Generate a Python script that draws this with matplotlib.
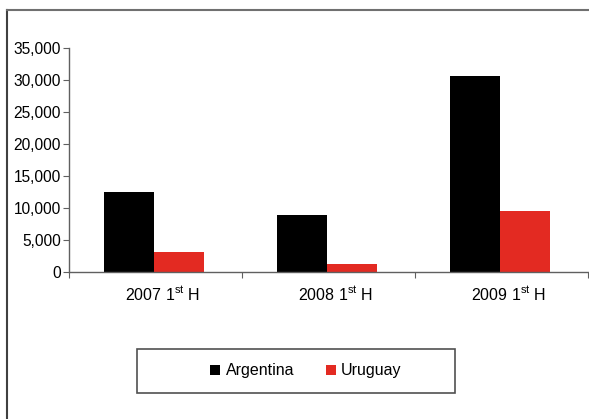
import matplotlib
matplotlib.use("Agg")
import matplotlib.pyplot as plt
from matplotlib.lines import Line2D
from matplotlib.patches import Rectangle, Patch
import matplotlib.ticker as mticker
import matplotlib.transforms as mtransforms
import numpy as np

plt.rcParams['font.family'] = ['Liberation Sans', 'DejaVu Sans']
plt.rcParams['mathtext.fontset'] = 'custom'
plt.rcParams['mathtext.rm'] = 'Liberation Sans'

categories = ["2007 1$^{\\mathrm{st}}$ H", "2008 1$^{\\mathrm{st}}$ H", "2009 1$^{\\mathrm{st}}$ H"]
argentina = [12500, 8900, 30600]
uruguay = [3100, 1250, 9500]
series_names = ["Argentina", "Uruguay"]
colors = ["#000000", "#E32A22"]
yticks = [0, 5000, 10000, 15000, 20000, 25000, 30000, 35000]

fig = plt.figure(figsize=(5.89, 4.19), dpi=100)
ax = fig.add_axes([69/589, 1-272/419, (588-69)/589, (272-48)/419])

x = np.arange(len(categories))
w = 0.289
ax.bar(x - w/2 - 0.008, argentina, width=w, color=colors[0], edgecolor='none')
ax.bar(x + w/2 - 0.008, uruguay, width=w, color=colors[1], edgecolor='none')

ax.set_xlim(-0.5, len(categories) - 0.5)
ax.set_ylim(0, 35000)
ax.set_yticks(yticks)
ax.yaxis.set_major_formatter(mticker.FuncFormatter(lambda v, p: f"{int(v):,}"))

ax.set_xticks(np.arange(len(categories) + 1) - 0.5)
ax.set_xticklabels([])
ax.set_xticks(x, minor=True)
ax.set_xticklabels(categories, minor=True)
ax.tick_params(axis='x', which='minor', length=0, pad=9, labelsize=11.5)
ax.tick_params(axis='x', which='major', length=4, direction='out', color='#606060')
ax.tick_params(axis='y', length=4, direction='out', color='#606060', labelsize=11.2, pad=2)

# nudge category labels slightly to the right
shift = mtransforms.ScaledTranslation(7/100, 0, fig.dpi_scale_trans)
for lbl in ax.get_xticklabels(minor=True):
    lbl.set_transform(lbl.get_transform() + shift)

for s in ['top', 'right']:
    ax.spines[s].set_visible(False)
for s in ['left', 'bottom']:
    ax.spines[s].set_color('#606060')
    ax.spines[s].set_linewidth(1.0)

# outer frame lines (left and top)
fig.add_artist(Line2D([7/589, 7/589], [0, 1-10/419], transform=fig.transFigure,
                      color='#404040', lw=1.5))
fig.add_artist(Line2D([7/589, 1], [1-10/419, 1-10/419], transform=fig.transFigure,
                      color='#707070', lw=1.5))

# legend box
fig.add_artist(Rectangle((137/589, 1-393/419), (455-137)/589, 44/419,
                         transform=fig.transFigure, fill=False,
                         edgecolor='#505050', lw=1.2))
handles = [Patch(facecolor=c, edgecolor='none') for c in colors]
fig.legend(handles, series_names, loc='center',
           bbox_to_anchor=(306/589, 1-371/419), ncol=2, frameon=False,
           fontsize=11.5, handlelength=0.6, handleheight=0.6, handletextpad=0.35,
           columnspacing=2.0)

fig.savefig("out.png", dpi=100)
